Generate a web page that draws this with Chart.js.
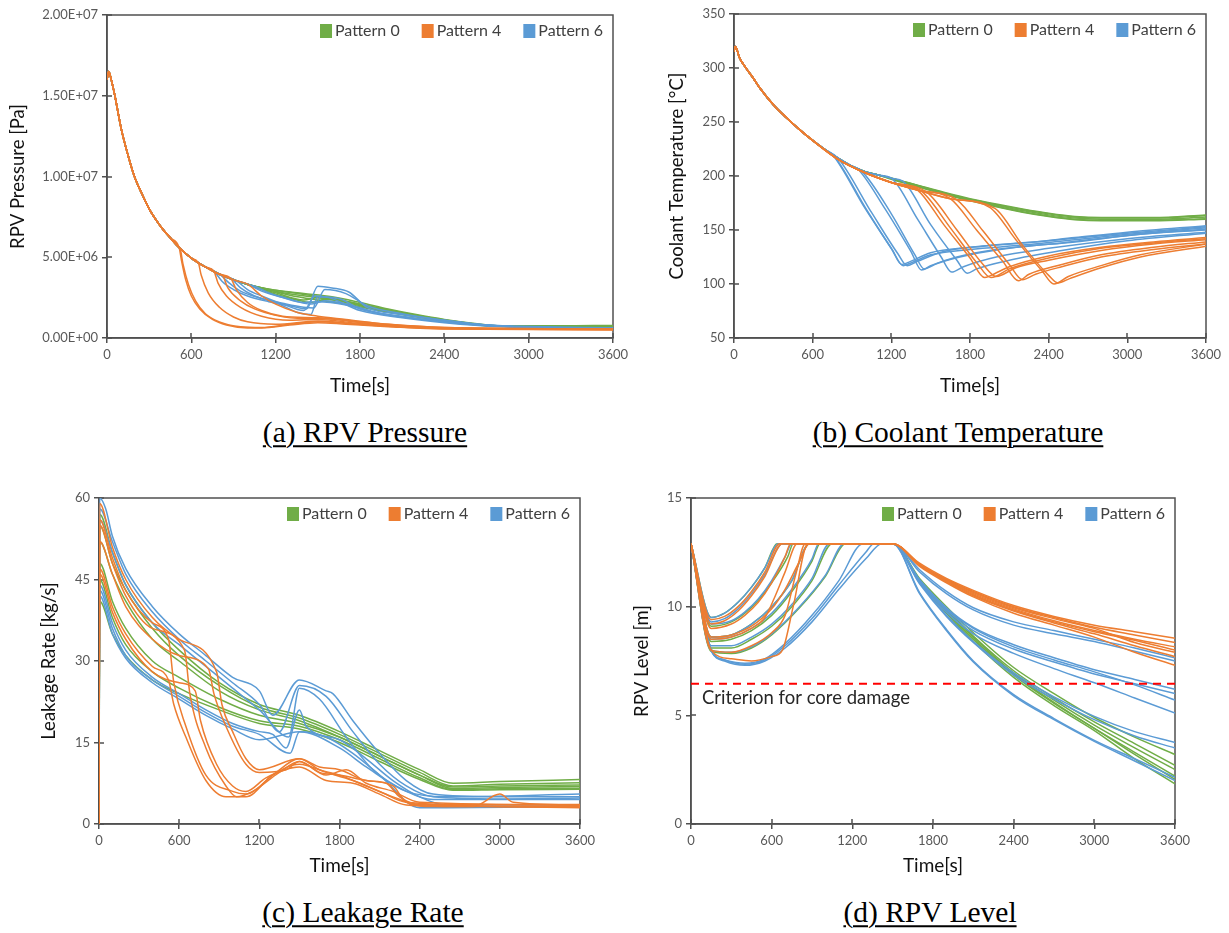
<!DOCTYPE html>
<html>
<head>
<meta charset="utf-8">
<script src="https://cdn.jsdelivr.net/npm/chart.js@4.4.1/dist/chart.umd.min.js"></script>
<style>
  body { margin: 0; background: #fff; width: 1229px; height: 933px; position: relative; overflow: hidden; }
  canvas { position: absolute; }
  .cap {
    position: absolute; transform: translate(-50%, -50%); white-space: nowrap; line-height: 1;
    font-family: "Liberation Serif", "Times New Roman", serif; font-size: 29.5px; color: #000;
    text-decoration: underline; text-decoration-thickness: 2px; text-underline-offset: 3px;
  }
</style>
</head>
<body>
<canvas id="cA" width="627" height="400" style="left:3px;top:0px"></canvas>
<canvas id="cB" width="567" height="400" style="left:662px;top:0px"></canvas>
<canvas id="cC" width="566" height="400" style="left:34px;top:480px"></canvas>
<canvas id="cD" width="602" height="400" style="left:627px;top:480px"></canvas>
<div class="cap" style="left:365px;top:433px">(a) RPV Pressure</div>
<div class="cap" style="left:958px;top:433px">(b) Coolant Temperature</div>
<div class="cap" style="left:363px;top:913px">(c) Leakage Rate</div>
<div class="cap" style="left:930px;top:913px">(d) RPV Level</div>
<script>
const patternNames = ['Pattern 0', 'Pattern 4', 'Pattern 6'];
const patternColors = ['#70AD47', '#ED7D31', '#5B9BD5'];
const timeTitle = 'Time[s]';
const timeTicks = { min: 0, max: 3600, step: 600 };

// (a) RPV pressure [Pa] - common blowdown curve, each line branches off it
const pressureHead = [[0, 1.60e7], [12, 1.65e7], [30, 1.60e7], [56, 1.50e7], [100, 1.30e7], [150, 1.13e7],
  [195, 1.0e7], [250, 8.9e6], [300, 8.0e6], [350, 7.3e6], [400, 6.7e6], [450, 6.2e6], [513, 5.6e6],
  [600, 4.95e6], [700, 4.4e6], [800, 3.95e6], [920, 3.55e6], [1050, 3.2e6], [1200, 2.95e6]];
const pressureP0 = [
  [[1200, 2.95e6], [1400, 2.75e6], [1600, 2.55e6], [1800, 2.2e6], [2000, 1.8e6], [2200, 1.45e6], [2400, 1.15e6], [2600, 0.92e6], [2800, 0.76e6], [3200, 0.75e6], [3600, 0.78e6]],
  [[1200, 2.95e6], [1400, 2.7e6], [1600, 2.45e6], [1800, 2.1e6], [2000, 1.72e6], [2200, 1.38e6], [2400, 1.1e6], [2600, 0.88e6], [2800, 0.74e6], [3600, 0.74e6]],
  [[1100, 3.1e6], [1300, 2.65e6], [1500, 2.35e6], [1700, 2.1e6], [1900, 1.75e6], [2100, 1.45e6], [2350, 1.12e6], [2600, 0.86e6], [2800, 0.73e6], [3600, 0.73e6]],
  [[1050, 3.2e6], [1250, 2.8e6], [1450, 2.55e6], [1650, 2.3e6], [1850, 1.95e6], [2050, 1.6e6], [2300, 1.25e6], [2550, 0.95e6], [2800, 0.74e6], [3600, 0.76e6]],
  [[1000, 3.33e6], [1200, 2.8e6], [1400, 2.35e6], [1500, 2.5e6], [1650, 2.35e6], [1850, 2.0e6], [2050, 1.65e6], [2300, 1.25e6], [2550, 0.92e6], [2800, 0.72e6], [3600, 0.72e6]],
  [[920, 3.55e6], [1150, 2.85e6], [1350, 2.35e6], [1450, 2.2e6], [1550, 2.4e6], [1700, 2.2e6], [1900, 1.8e6], [2150, 1.4e6], [2450, 1.0e6], [2800, 0.72e6], [3600, 0.7e6]],
];
const pressureP4 = [
  [[513, 5.6e6], [530, 4.8e6], [560, 3.6e6], [600, 2.6e6], [660, 1.8e6], [750, 1.15e6], [850, 0.8e6], [1000, 0.62e6], [1100, 0.62e6], [1300, 0.8e6], [1500, 0.95e6], [1700, 0.85e6], [2000, 0.7e6], [2400, 0.55e6], [3600, 0.5e6]],
  [[520, 5.55e6], [540, 4.6e6], [580, 3.3e6], [630, 2.3e6], [700, 1.5e6], [800, 1.0e6], [950, 0.7e6], [1100, 0.65e6], [1300, 0.85e6], [1500, 1.0e6], [1700, 0.9e6], [2000, 0.72e6], [2400, 0.57e6], [3600, 0.52e6]],
  [[650, 4.65e6], [670, 3.9e6], [720, 2.8e6], [800, 1.9e6], [900, 1.3e6], [1000, 1.0e6], [1200, 0.85e6], [1500, 1.05e6], [1800, 0.85e6], [2400, 0.6e6], [3600, 0.53e6]],
  [[760, 4.15e6], [790, 3.4e6], [850, 2.6e6], [950, 1.9e6], [1100, 1.35e6], [1300, 1.1e6], [1500, 1.15e6], [1800, 0.9e6], [2400, 0.62e6], [3600, 0.55e6]],
  [[820, 3.9e6], [860, 3.1e6], [950, 2.3e6], [1050, 1.8e6], [1200, 1.4e6], [1400, 1.2e6], [1550, 1.2e6], [1800, 0.95e6], [2400, 0.63e6], [3600, 0.55e6]],
  [[880, 3.7e6], [920, 3.0e6], [1000, 2.2e6], [1100, 1.7e6], [1250, 1.35e6], [1500, 1.25e6], [1800, 1.0e6], [2400, 0.65e6], [3600, 0.56e6]],
  [[1000, 3.33e6], [1100, 2.6e6], [1200, 2.1e6], [1350, 1.6e6], [1500, 1.35e6], [1700, 1.15e6], [2000, 0.85e6], [2400, 0.65e6], [3600, 0.56e6]],
];
const pressureP6 = [
  [[760, 4.15e6], [820, 3.5e6], [900, 3.0e6], [1000, 2.6e6], [1150, 2.25e6], [1300, 2.0e6], [1420, 1.8e6], [1500, 3.2e6], [1600, 3.1e6], [1720, 2.85e6], [1850, 1.9e6], [2100, 1.45e6], [2400, 1.1e6], [2700, 0.8e6], [3000, 0.65e6], [3600, 0.6e6]],
  [[800, 3.95e6], [870, 3.4e6], [950, 2.9e6], [1100, 2.45e6], [1250, 2.15e6], [1400, 1.9e6], [1470, 1.85e6], [1550, 3.0e6], [1700, 2.75e6], [1850, 2.0e6], [2100, 1.5e6], [2400, 1.1e6], [2700, 0.8e6], [3000, 0.65e6], [3600, 0.6e6]],
  [[880, 3.7e6], [950, 3.1e6], [1050, 2.6e6], [1200, 2.2e6], [1350, 1.6e6], [1450, 1.45e6], [1500, 2.55e6], [1650, 2.45e6], [1800, 1.8e6], [2100, 1.35e6], [2400, 1.0e6], [2800, 0.72e6], [3600, 0.6e6]],
  [[920, 3.55e6], [1000, 3.0e6], [1100, 2.6e6], [1250, 2.1e6], [1400, 1.7e6], [1480, 2.6e6], [1580, 2.5e6], [1800, 1.7e6], [2100, 1.25e6], [2400, 0.95e6], [2800, 0.7e6], [3600, 0.6e6]],
  [[1000, 3.33e6], [1100, 2.9e6], [1250, 2.5e6], [1400, 2.2e6], [1500, 2.25e6], [1700, 2.05e6], [1900, 1.6e6], [2200, 1.2e6], [2500, 0.9e6], [2900, 0.7e6], [3600, 0.6e6]],
  [[1050, 3.2e6], [1150, 2.8e6], [1300, 2.4e6], [1450, 2.1e6], [1550, 2.3e6], [1750, 2.0e6], [1950, 1.5e6], [2300, 1.1e6], [2700, 0.8e6], [3600, 0.62e6]],
];

// (b) coolant temperature [degC]
const tempHead = [[0, 315], [10, 320], [20, 318], [40, 310], [80, 302], [150, 290], [200, 281], [300, 266],
  [400, 254], [500, 243], [600, 233], [700, 224], [800, 216], [900, 209], [1000, 204], [1100, 201], [1200, 198]];
const tempP0 = [
  [[1200, 198], [1400, 191], [1600, 184], [1800, 178], [2000, 173], [2200, 168], [2400, 164], [2600, 161], [2800, 160], [3200, 160], [3600, 162]],
  [[1200, 198], [1400, 191.5], [1600, 185], [1800, 179], [2000, 174], [2200, 169.5], [2400, 165.5], [2600, 162.5], [2800, 161.5], [3200, 161.5], [3600, 164]],
  [[1200, 198], [1400, 191.2], [1600, 184.5], [1800, 178.5], [2000, 173.5], [2200, 169], [2400, 165], [2600, 162], [2800, 161], [3200, 161], [3600, 163.5]],
  [[1200, 197.5], [1400, 190.5], [1600, 183.5], [1800, 177.5], [2000, 172], [2200, 167], [2400, 163], [2600, 160], [2800, 159], [3200, 159], [3600, 160.5]],
  [[1200, 197], [1400, 190], [1600, 183], [1800, 177], [2000, 171.5], [2200, 166.5], [2400, 162.5], [2600, 159.5], [2800, 158.5], [3200, 158.5], [3600, 160]],
];
const tempP4 = [
  [[600, 233], [800, 215], [1000, 203], [1200, 194], [1400, 187], [1600, 155], [1800, 124], [1911, 106], [1960, 108], [2100, 116], [2400, 126], [2800, 134], [3200, 139], [3600, 143]],
  [[600, 233], [800, 215], [1000, 203], [1200, 194], [1430, 186], [1650, 152], [1850, 120], [1960, 106], [2100, 114], [2400, 124], [2800, 133], [3200, 138], [3600, 142]],
  [[600, 233], [800, 215], [1000, 203], [1200, 194], [1470, 185], [1700, 150], [1900, 118], [2000, 107], [2150, 115], [2400, 122], [2800, 131], [3200, 137], [3600, 141]],
  [[600, 233], [800, 215], [1000, 203], [1200, 194], [1400, 187], [1650, 179], [1850, 150], [2050, 121], [2170, 103], [2250, 109], [2500, 118], [2800, 127], [3200, 134], [3600, 139]],
  [[600, 233], [800, 215], [1000, 203], [1200, 194], [1400, 187], [1700, 178], [1900, 149], [2100, 118], [2200, 104], [2300, 109], [2500, 116], [2800, 125], [3200, 132], [3600, 137]],
  [[600, 233], [800, 215], [1000, 203], [1200, 194], [1400, 187], [1650, 179], [1950, 171], [2150, 141], [2350, 112], [2440, 100], [2550, 107], [2800, 117], [3100, 127], [3600, 137]],
  [[600, 233], [800, 215], [1000, 203], [1200, 194], [1400, 187], [1650, 179], [1990, 170], [2200, 136], [2400, 108], [2470, 101], [2560, 105], [2800, 115], [3100, 125], [3600, 135]],
];
const tempP6 = [
  [[750, 220], [1000, 170], [1200, 133], [1280, 118], [1330, 120], [1500, 129], [1800, 134], [2200, 138], [2600, 143], [3000, 148], [3600, 154]],
  [[760, 219], [1010, 169], [1210, 131], [1290, 117], [1340, 119], [1500, 127], [1800, 132], [2200, 136], [2600, 141], [3000, 146], [3600, 152]],
  [[790, 217], [1050, 166], [1250, 128], [1320, 117], [1400, 121], [1600, 130], [1900, 135], [2400, 140], [3000, 147], [3600, 153]],
  [[940, 207], [1150, 170], [1350, 130], [1430, 113], [1500, 117], [1700, 125], [2000, 132], [2500, 138], [3000, 145], [3600, 151]],
  [[970, 205], [1200, 165], [1380, 127], [1450, 114], [1550, 119], [1800, 127], [2100, 133], [2600, 139], [3100, 146], [3600, 150]],
  [[1200, 198], [1400, 160], [1580, 125], [1660, 111], [1750, 116], [2000, 125], [2400, 133], [3000, 142], [3600, 148]],
  [[1290, 195], [1500, 155], [1700, 122], [1780, 110], [1850, 114], [2100, 122], [2500, 131], [3000, 140], [3600, 147]],
];

// (c) leakage rate [kg/s]
const leakP0 = [
  [[0, 0], [5, 57], [100, 50], [200, 44], [400, 37], [600, 32], [900, 26], [1200, 22], [1500, 20], [1800, 17], [2100, 13.5], [2400, 10], [2650, 7.5], [3000, 7.8], [3600, 8.2]],
  [[0, 0], [5, 55], [100, 48], [200, 43], [400, 36], [600, 31], [900, 25.5], [1200, 21.5], [1500, 19.5], [1800, 16.5], [2100, 13], [2400, 9.5], [2650, 7], [3000, 7.3], [3600, 7.6]],
  [[0, 0], [5, 52], [100, 46], [200, 41], [400, 34], [600, 30], [900, 24.5], [1200, 21], [1500, 19], [1800, 16], [2100, 12.5], [2400, 9], [2650, 6.8], [3000, 7], [3600, 7.2]],
  [[0, 0], [5, 48], [100, 41], [200, 36], [400, 30], [600, 27], [900, 23], [1200, 20], [1500, 18.5], [1800, 16], [2100, 12.5], [2400, 9], [2650, 6.5], [3000, 6.7], [3600, 6.9]],
  [[0, 0], [5, 45], [100, 38], [200, 33], [400, 28], [600, 25], [900, 21.5], [1200, 19], [1500, 18], [1800, 15.5], [2100, 12], [2400, 8.5], [2650, 6.3], [3000, 6.5], [3600, 6.6]],
  [[0, 0], [5, 41], [100, 35], [200, 31], [400, 26.5], [600, 24], [900, 21], [1200, 18.5], [1500, 17.5], [1800, 15], [2100, 11.5], [2400, 8.2], [2650, 6.2], [3000, 6.3], [3600, 6.4]],
];
const leakP4 = [
  [[0, 0], [5, 56], [100, 49], [200, 43], [400, 37], [520, 34], [560, 26], [650, 18], [800, 9], [1000, 6], [1100, 5.5], [1300, 9], [1500, 12], [1650, 10], [1800, 9], [2000, 7], [2200, 5], [2400, 3.5], [3600, 3.2]],
  [[0, 0], [5, 55], [100, 48], [200, 42], [400, 36], [640, 32], [680, 24], [800, 14], [950, 7], [1030, 5], [1150, 6], [1350, 9.5], [1500, 11.5], [1700, 9], [1850, 10], [2000, 7.5], [2200, 6], [2400, 4], [3600, 3.5]],
  [[0, 0], [5, 52], [100, 46], [200, 40], [400, 34], [600, 31], [820, 28.5], [860, 24], [950, 18], [1100, 11], [1200, 9.5], [1400, 10], [1500, 11.5], [1650, 9.5], [1800, 9], [2000, 8], [2200, 7], [2300, 4], [2500, 3.2], [3600, 3.2]],
  [[0, 0], [5, 47], [100, 40], [200, 35], [400, 29], [520, 26.5], [560, 22], [650, 16], [800, 8], [950, 5], [1100, 5], [1300, 9], [1500, 11], [1700, 9.5], [1900, 8], [2100, 6], [2300, 4], [3600, 3]],
  [[0, 0], [5, 46], [100, 39], [200, 34], [400, 28], [600, 26], [720, 24.5], [760, 19], [880, 11], [1000, 7], [1100, 6], [1250, 8.5], [1500, 10.5], [1700, 8], [1900, 7.5], [2100, 5.5], [2300, 3.5], [2800, 3.2], [3000, 5.5], [3100, 4], [3600, 3.5]],
  [[0, 0], [5, 59], [100, 51], [200, 45], [400, 38], [600, 34], [880, 28], [920, 22], [1000, 17], [1100, 12], [1200, 10], [1500, 12], [1650, 10.5], [1800, 10], [2000, 8], [2150, 7.5], [2250, 5], [2400, 3.6], [3600, 3.6]],
];
const leakP6 = [
  [[0, 0], [5, 60], [50, 58], [100, 53], [200, 47], [400, 40], [600, 35], [800, 31], [1000, 27], [1200, 24.5], [1300, 20], [1500, 26.5], [1700, 24.5], [1750, 24], [1900, 19], [2100, 13], [2300, 8], [2500, 5.5], [3000, 5], [3600, 5]],
  [[0, 0], [5, 58], [100, 52], [200, 46], [400, 39], [600, 34], [800, 30], [1000, 26], [1200, 22], [1350, 17], [1500, 25.5], [1700, 23.5], [1900, 17], [2100, 11], [2300, 7], [2500, 5], [3000, 4.6], [3600, 4.8]],
  [[0, 0], [5, 56], [100, 50], [200, 44], [400, 37], [600, 33], [800, 29], [1000, 25], [1200, 21], [1420, 16], [1500, 25], [1650, 23], [1850, 16], [2050, 10], [2300, 6], [2500, 4.5], [3600, 4.5]],
  [[0, 0], [5, 44], [100, 37], [200, 32], [400, 27], [600, 24], [800, 21], [1000, 18.5], [1200, 17], [1300, 16.5], [1400, 14], [1500, 21], [1550, 18], [1800, 15.5], [2000, 12], [2200, 8], [2400, 5], [2600, 3.5], [3600, 3.5]],
  [[0, 0], [5, 43], [100, 36], [200, 31], [400, 26.5], [600, 23.5], [800, 20.5], [1000, 18], [1200, 16.5], [1430, 13], [1500, 17], [1700, 16], [1900, 13], [2100, 9], [2400, 3], [2600, 3], [3600, 3.2]],
  [[0, 0], [5, 42], [100, 35], [200, 30.5], [400, 26], [600, 23], [800, 20], [1000, 17.5], [1200, 15.5], [1500, 17], [1800, 14], [2000, 10.5], [2300, 6], [2600, 5], [3600, 5.5]],
];

// (d) RPV level [m]
const levelP0 = [
  [[0, 12.9], [150, 9.5], [250, 9.7], [350, 10.2], [450, 10.9], [550, 11.8], [640, 12.9], [1500, 12.9], [1700, 11.2], [1900, 9.8], [2100, 8.5], [2400, 6.9], [2700, 5.6], [3000, 4.4], [3300, 3.3], [3600, 2.2]],
  [[0, 12.9], [150, 9.1], [300, 9.3], [400, 9.7], [500, 10.3], [600, 11.1], [720, 12.3], [760, 12.9], [1500, 12.9], [1700, 11.25], [1900, 9.9], [2100, 8.65], [2400, 7.05], [2700, 5.8], [3000, 4.7], [3300, 3.7], [3600, 2.7]],
  [[0, 12.9], [150, 8.4], [300, 8.5], [450, 8.9], [600, 9.6], [750, 10.7], [900, 12.1], [960, 12.9], [1500, 12.9], [1700, 11.15], [1900, 9.7], [2100, 8.4], [2400, 6.75], [2700, 5.45], [3000, 4.3], [3300, 3.0], [3600, 1.85]],
  [[0, 12.9], [150, 8.1], [300, 8.1], [450, 8.5], [600, 9.1], [750, 10.0], [900, 11.2], [1050, 12.9], [1500, 12.9], [1700, 11.3], [1900, 10.0], [2100, 8.8], [2400, 7.2], [2700, 6.0], [3000, 4.9], [3300, 4.0], [3600, 3.2]],
  [[0, 12.9], [150, 7.95], [300, 7.85], [450, 8.1], [600, 8.7], [800, 9.9], [1000, 11.4], [1150, 12.9], [1500, 12.9], [1700, 11.2], [1900, 9.85], [2100, 8.6], [2400, 6.95], [2700, 5.7], [3000, 4.55], [3300, 3.5], [3600, 2.5]],
  [[0, 12.9], [150, 8.6], [300, 8.7], [450, 9.2], [600, 10.0], [750, 11.2], [880, 12.9], [1500, 12.9], [1700, 11.2], [1900, 9.75], [2100, 8.5], [2400, 6.85], [2700, 5.55], [3000, 4.4], [3300, 3.2], [3600, 2.05]],
];
const levelP4 = [
  [[0, 12.9], [150, 9.4], [250, 9.55], [350, 10.0], [450, 10.7], [550, 11.6], [660, 12.9], [1500, 12.9], [1700, 12.0], [1900, 11.3], [2100, 10.75], [2400, 10.05], [2700, 9.55], [3000, 9.15], [3300, 8.85], [3600, 8.55]],
  [[0, 12.9], [150, 9.0], [300, 9.2], [400, 9.6], [500, 10.2], [600, 11.1], [700, 12.3], [740, 12.9], [1500, 12.9], [1700, 11.9], [1900, 11.2], [2100, 10.6], [2400, 9.9], [2700, 9.35], [3000, 8.9], [3300, 8.5], [3600, 8.15]],
  [[0, 12.9], [150, 8.5], [300, 8.6], [450, 9.0], [550, 9.5], [620, 10.4], [700, 11.6], [790, 12.9], [1500, 12.9], [1700, 11.95], [1900, 11.25], [2100, 10.65], [2400, 9.95], [2700, 9.45], [3000, 9.0], [3300, 8.35], [3600, 7.9]],
  [[0, 12.9], [150, 8.0], [300, 7.9], [450, 8.2], [600, 8.8], [700, 9.6], [780, 11.5], [850, 12.9], [1500, 12.9], [1700, 11.9], [1900, 11.15], [2100, 10.5], [2400, 9.8], [2700, 9.25], [3000, 8.75], [3300, 8.2], [3600, 7.7]],
  [[0, 12.9], [150, 8.0], [300, 7.6], [450, 7.5], [600, 7.7], [680, 8.0], [760, 10.0], [870, 12.9], [1500, 12.9], [1700, 11.85], [1900, 11.1], [2100, 10.45], [2400, 9.7], [2700, 9.15], [3000, 8.6], [3300, 7.9], [3600, 7.3]],
  [[0, 12.9], [150, 8.6], [300, 8.7], [450, 9.1], [600, 9.9], [700, 10.8], [800, 12.0], [880, 12.9], [1500, 12.9], [1700, 11.95], [1900, 11.2], [2100, 10.55], [2400, 9.85], [2700, 9.3], [3000, 8.85], [3300, 8.45], [3600, 8.0]],
  [[0, 12.9], [150, 9.2], [250, 9.35], [350, 9.8], [450, 10.5], [550, 11.4], [680, 12.9], [1500, 12.9], [1700, 11.9], [1900, 11.25], [2100, 10.7], [2400, 10.0], [2700, 9.5], [3000, 9.05], [3300, 8.7], [3600, 8.35]],
];
const levelP6 = [
  [[0, 12.9], [150, 9.3], [250, 9.45], [350, 9.9], [450, 10.6], [550, 11.5], [680, 12.9], [1500, 12.9], [1700, 11.6], [1900, 10.6], [2100, 9.85], [2400, 9.15], [2700, 8.75], [3000, 8.4], [3300, 7.95], [3600, 7.5]],
  [[0, 12.9], [150, 9.5], [250, 9.7], [350, 10.2], [450, 10.9], [550, 11.8], [650, 12.9], [1500, 12.9], [1700, 11.7], [1900, 10.7], [2100, 9.95], [2400, 9.3], [2700, 8.9], [3000, 8.5], [3300, 8.1], [3600, 7.65]],
  [[0, 12.9], [150, 9.2], [300, 9.35], [400, 9.75], [500, 10.35], [600, 11.2], [700, 12.3], [750, 12.9], [1500, 12.9], [1700, 11.25], [1900, 9.95], [2100, 9.05], [2400, 8.25], [2700, 7.65], [3000, 7.1], [3300, 6.65], [3600, 6.2]],
  [[0, 12.9], [150, 8.5], [300, 8.6], [450, 9.0], [600, 9.7], [750, 10.8], [900, 12.2], [950, 12.9], [1500, 12.9], [1700, 11.2], [1900, 9.85], [2100, 8.9], [2400, 8.05], [2700, 7.45], [3000, 6.9], [3300, 6.45], [3600, 6.0]],
  [[0, 12.9], [150, 8.6], [300, 8.7], [450, 9.2], [600, 10.0], [750, 11.2], [880, 12.9], [1500, 12.9], [1700, 11.2], [1900, 9.9], [2100, 9.0], [2400, 8.15], [2700, 7.55], [3000, 7.0], [3300, 6.4], [3600, 5.7]],
  [[0, 12.9], [150, 8.2], [300, 8.2], [450, 8.6], [600, 9.2], [750, 10.1], [900, 11.3], [1030, 12.9], [1500, 12.9], [1700, 11.15], [1900, 9.75], [2100, 8.75], [2400, 7.85], [2700, 7.15], [3000, 6.5], [3300, 5.8], [3600, 5.1]],
  [[0, 12.9], [150, 8.0], [300, 7.9], [450, 8.15], [600, 8.75], [800, 9.95], [1000, 11.45], [1140, 12.9], [1500, 12.9], [1700, 11.1], [1900, 9.6], [2100, 8.4], [2400, 6.95], [2700, 5.85], [3000, 4.95], [3300, 4.25], [3600, 3.75]],
  [[0, 12.9], [150, 7.95], [250, 7.55], [400, 7.4], [550, 7.6], [700, 8.3], [900, 9.6], [1100, 11.2], [1280, 12.9], [1500, 12.9], [1700, 11.05], [1900, 9.55], [2100, 8.35], [2400, 6.85], [2700, 5.75], [3000, 4.8], [3300, 4.05], [3600, 3.5]],
  [[0, 12.9], [150, 8.0], [250, 7.5], [400, 7.3], [550, 7.5], [700, 8.1], [900, 9.3], [1100, 10.8], [1300, 12.2], [1420, 12.9], [1500, 12.9], [1700, 10.6], [1900, 8.9], [2100, 7.45], [2400, 5.9], [2700, 4.8], [3000, 3.8], [3300, 2.9], [3600, 2.0]],
  [[0, 12.9], [150, 8.05], [250, 7.55], [400, 7.35], [550, 7.55], [700, 8.2], [900, 9.45], [1100, 11.0], [1300, 12.5], [1360, 12.9], [1500, 12.9], [1700, 10.65], [1900, 8.95], [2100, 7.5], [2400, 5.95], [2700, 4.85], [3000, 3.85], [3300, 3.0], [3600, 2.15]],
];
const criterionLevel = 6.45;
const criterionText = 'Criterion for core damage';

const axisColor = '#505050';
const tickColor = '#595959';
const fontFamily = 'Lato, "Open Sans", sans-serif';

// prepend the shared head of the curve up to where a branch leaves it
function withHead(head, tails) {
  return tails.map((tail) => head.filter((p) => p[0] < tail[0][0]).concat(tail));
}

function lineSets(lines, color, order) {
  return lines.map((pts) => ({
    data: pts,
    borderColor: color,
    borderWidth: 1.5,
    pointRadius: 0,
    fill: false,
    cubicInterpolationMode: 'monotone',
    order,
  }));
}

function patternSets(p0, p4, p6) {
  return [
    ...lineSets(p0, patternColors[0], 3),
    ...lineSets(p6, patternColors[2], 2),
    ...lineSets(p4, patternColors[1], 1),
  ];
}

function sciLabel(v) {
  if (v === 0) return '0.00E+00';
  const e = Math.floor(Math.log10(v) + 1e-9);
  const m = (v / 10 ** e).toFixed(2);
  return `${m}E+${String(e).padStart(2, '0')}`;
}

// box around the plot area, and the inner half of the crossing tick marks
// (drawn before the lines, so lines lying on an axis stay visible)
const framePlugin = {
  id: 'frame',
  beforeDatasetsDraw(chart) {
    const { ctx, chartArea: a, scales } = chart;
    ctx.save();
    ctx.strokeStyle = axisColor;
    ctx.lineWidth = 1.5;
    ctx.strokeRect(a.left, a.top, a.right - a.left, a.bottom - a.top);
    ctx.beginPath();
    scales.x.ticks.forEach((t) => {
      const px = Math.round(scales.x.getPixelForValue(t.value));
      ctx.moveTo(px, a.bottom);
      ctx.lineTo(px, a.bottom - 5);
    });
    scales.y.ticks.forEach((t) => {
      const py = Math.round(scales.y.getPixelForValue(t.value));
      ctx.moveTo(a.left, py);
      ctx.lineTo(a.left + 5, py);
    });
    ctx.stroke();
    ctx.restore();
  },
};

// legend with square swatches, inside the top right corner of the plot
const legendPlugin = {
  id: 'boxLegend',
  afterDraw(chart) {
    const { ctx, chartArea: a } = chart;
    ctx.save();
    ctx.font = `16px ${fontFamily}`;
    ctx.textBaseline = 'middle';
    let x = a.right - 10;
    const y = a.top + 16;
    for (let i = patternNames.length - 1; i >= 0; i -= 1) {
      const w = ctx.measureText(patternNames[i]).width;
      ctx.fillStyle = '#404040';
      ctx.fillText(patternNames[i], x - w, y);
      x -= w + 3;
      ctx.fillStyle = patternColors[i];
      ctx.fillRect(x - 12, y - 7, 12, 14);
      x -= 12 + 22;
    }
    ctx.restore();
  },
};

const criterionPlugin = {
  id: 'criterion',
  afterDatasetsDraw(chart) {
    const { ctx, chartArea: a, scales } = chart;
    ctx.save();
    ctx.font = `18.5px ${fontFamily}`;
    ctx.fillStyle = '#262626';
    ctx.textBaseline = 'middle';
    ctx.fillText(criterionText, a.left + 11, scales.y.getPixelForValue(criterionLevel) + 14);
    ctx.restore();
  },
};

function makeChart(id, cfg) {
  return new Chart(document.getElementById(id), {
    type: 'line',
    data: { datasets: cfg.datasets },
    options: {
      responsive: false,
      animation: false,
      devicePixelRatio: 1,
      layout: { padding: { top: cfg.padTop, right: cfg.padRight, left: 0, bottom: 0 } },
      plugins: { legend: { display: false }, tooltip: { enabled: false } },
      scales: {
        x: {
          type: 'linear',
          min: timeTicks.min,
          max: timeTicks.max,
          ticks: { stepSize: timeTicks.step, color: tickColor, font: { family: fontFamily, size: 13 }, padding: 4, maxRotation: 0, callback: (v) => String(v) },
          grid: { drawOnChartArea: false, color: axisColor, lineWidth: 1.5, tickLength: 5 },
          border: { color: axisColor, width: 1.5 },
          title: { display: true, text: timeTitle, color: '#111', font: { family: fontFamily, size: 19 }, padding: { top: 4, bottom: 3 } },
          afterFit(s) { s.height = cfg.xHeight; s.paddingLeft = 0; s.paddingRight = 0; },
        },
        y: {
          min: cfg.yMin,
          max: cfg.yMax,
          ticks: { stepSize: cfg.yStep, color: tickColor, font: { family: fontFamily, size: 13 }, padding: 4, callback: cfg.yLabel || ((v) => String(v)) },
          grid: { drawOnChartArea: false, color: axisColor, lineWidth: 1.5, tickLength: 5 },
          border: { color: axisColor, width: 1.5 },
          title: { display: true, text: cfg.yTitle, color: '#111', font: { family: fontFamily, size: 18.5 }, padding: { top: 4, bottom: 4 } },
          afterFit(s) { s.width = cfg.yWidth; s.paddingTop = 0; s.paddingBottom = 0; },
        },
      },
    },
    plugins: [framePlugin, legendPlugin, ...(cfg.extra || [])],
  });
}

makeChart('cA', {
  datasets: patternSets(withHead(pressureHead, pressureP0), withHead(pressureHead, pressureP4), withHead(pressureHead, pressureP6)),
  yMin: 0, yMax: 2e7, yStep: 5e6, yLabel: sciLabel, yTitle: 'RPV Pressure [Pa]',
  yWidth: 104, padTop: 15, padRight: 17, xHeight: 62,
});

makeChart('cB', {
  datasets: patternSets(withHead(tempHead, tempP0), withHead(tempHead, tempP4), withHead(tempHead, tempP6)),
  yMin: 50, yMax: 350, yStep: 50, yTitle: 'Coolant Temperature [°C]',
  yWidth: 72, padTop: 14, padRight: 23, xHeight: 62,
});

makeChart('cC', {
  datasets: patternSets(leakP0, leakP4, leakP6),
  yMin: 0, yMax: 60, yStep: 15, yTitle: 'Leakage Rate [kg/s]',
  yWidth: 65, padTop: 18, padRight: 20, xHeight: 56,
});

makeChart('cD', {
  datasets: [
    {
      data: [[timeTicks.min, criterionLevel], [timeTicks.max, criterionLevel]],
      borderColor: '#FF0000', borderWidth: 2, borderDash: [8, 6], pointRadius: 0, order: 0,
    },
    ...patternSets(levelP0, levelP4, levelP6),
  ],
  yMin: 0, yMax: 15, yStep: 5, yTitle: 'RPV Level [m]',
  yWidth: 64, padTop: 18, padRight: 54, xHeight: 56,
  extra: [criterionPlugin],
});
</script>
</body>
</html>
